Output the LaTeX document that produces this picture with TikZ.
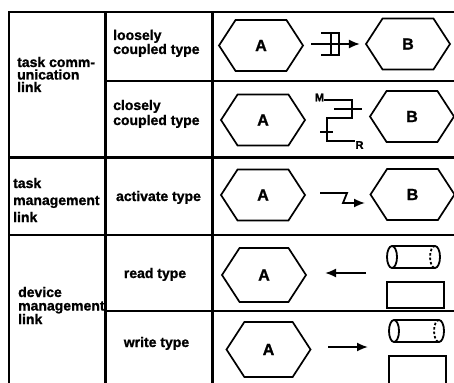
\documentclass[tikz,border=0pt]{standalone}
\usepackage{fontspec}
\setmainfont{Liberation Sans}[BoldFeatures={FakeBold=1.2}]
\usetikzlibrary{shapes.symbols,calc,arrows.meta}
\begin{document}
\begin{tikzpicture}[x=1pt,y=-1pt,
  grid/.style={line width=2.2pt},
  hexa/.style={draw, line width=1.7pt, shape=signal, signal to=west and east,
    signal pointer angle=114, minimum width=84pt, minimum height=51pt,
    inner sep=0pt, font=\fontsize{16}{16}\selectfont\bfseries},
  lbl/.style={anchor=base west, align=left, inner sep=0pt},
  ctr/.style={anchor=base, inner sep=0pt, font=\fontsize{14}{14}\selectfont\bfseries},
  sym/.style={line width=1.8pt},
  arr/.style={line width=1.8pt, -{Latex[length=11pt,width=9pt]}},
  small/.style={inner sep=0pt, font=\fontsize{11}{11}\selectfont\bfseries},
]
\useasboundingbox (0,0) rectangle (454,382);

% table rules
\draw[grid] (454,12) -- (9,12) -- (9,386);
\draw[grid] (105.5,12) -- (105.5,386);
\draw[grid] (212.5,12) -- (212.5,386);
\draw[grid] (105.5,81) -- (454,81);
\draw[grid] (9,157.5) -- (454,157.5);
\draw[grid] (9,235) -- (454,235);
\draw[grid] (105.5,311) -- (454,311);

% first column (anchor = baseline of last line)
\node[lbl, font=\fontsize{14}{12.5}\selectfont\bfseries] (t1) at (17,92) {task comm-\\unication\\link};
\node[lbl, font=\fontsize{14}{17}\selectfont\bfseries] (t3) at (13,222) {task\\management\\link};
\node[lbl, font=\fontsize{14}{13.5}\selectfont\bfseries] (t4) at (18,324) {device\\management\\link};

% second column
\node[lbl, font=\fontsize{14}{12.5}\selectfont\bfseries] (c1) at (113,54) {loosely\\coupled type};
\node[lbl, font=\fontsize{14}{15}\selectfont\bfseries] (c2) at (113,125) {closely\\coupled type};
\node[ctr] (c3) at (158.5,201) {activate type};
\node[ctr] (c4) at (155,278) {read type};
\node[ctr] (c5) at (156.5,347) {write type};

% hexagons
\node[hexa] (A1) at (261,45.5) {A};
\node[hexa] (B1) at (408,44) {B};
\node[hexa] (A2) at (263,120) {A};
\node[hexa] (B2) at (412,116.5) {B};
\node[hexa] (A3) at (263,195) {A};
\node[hexa] (B3) at (412.5,194.5) {B};
\node[hexa, minimum height=54pt] (A4) at (264,275) {A};
\node[hexa, minimum height=55pt] (A5) at (268.5,349.5) {A};

% loosely coupled
\draw[arr] ($(A1.east)+(7,-1.5)$) -- ($(B1.west)+(-5,0)$);
\draw[sym] (321,33) -- (339,33) -- (339,55) -- (321,55);
\draw[sym] (331,33) -- (331,55);

% closely coupled
\node[small] (M) at (319.5,97.5) {M};
\node[small] (R) at (359.5,145) {R};
\draw[sym] (324,100) -- (352,100) -- (352,118) -- (327,118) -- (327,141) -- (355,141);
\draw[sym] (334,109) -- (362,109);
\draw[sym] (320,132) -- (333,132);

% activate
\coordinate (zs) at (320,193);
\coordinate (ze) at (365,203);
\draw[arr] (zs) -- (347,193) -- (343,203) -- (ze);

% read
\coordinate (rd) at (366,273);
\coordinate (rt) at (325,273);
\draw[arr] (rd) -- (rt);
\draw[sym] (392,257) ellipse [x radius=5pt, y radius=11pt];
\draw[sym] (392,246) -- (435,246) arc[start angle=90, end angle=-90, x radius=5pt, y radius=11pt] -- (392,268);
\draw[sym, dash pattern=on 2.5pt off 2pt] (435,246) arc[start angle=90, end angle=270, x radius=5pt, y radius=11pt];
\draw[sym] (387,282) rectangle (444,308);

% write
\coordinate (ws) at (328,347);
\coordinate (wr) at (368,347);
\draw[arr] (ws) -- (wr);
\draw[sym] (394,331) ellipse [x radius=5pt, y radius=11pt];
\draw[sym] (394,320) -- (439,320) arc[start angle=90, end angle=-90, x radius=5pt, y radius=11pt] -- (394,342);
\draw[sym, dash pattern=on 2.5pt off 2pt] (439,320) arc[start angle=90, end angle=270, x radius=5pt, y radius=11pt];
\draw[sym] (389,356) rectangle (446,388);
\end{tikzpicture}
\end{document}
